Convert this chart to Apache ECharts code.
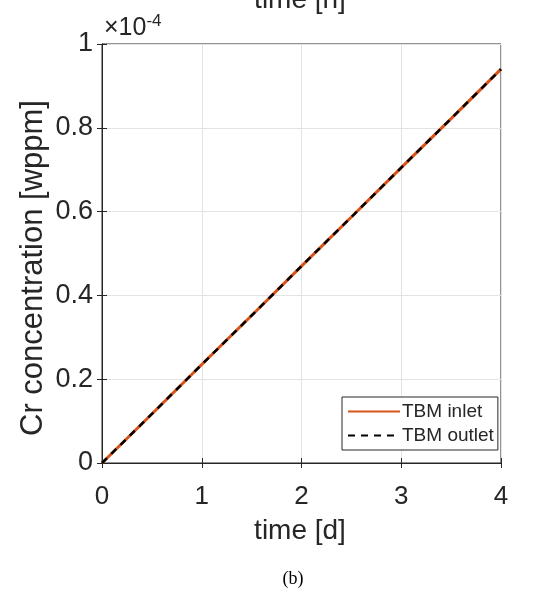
<!DOCTYPE html>
<html><head><meta charset="utf-8">
<script src="https://cdn.jsdelivr.net/npm/echarts@6/dist/echarts.min.js"></script>
<style>html,body{margin:0;padding:0;background:#fff}#c{width:545px;height:606px}</style>
</head><body><div id="c"></div>
<script>
// time in days
const timeDays = [0, 0.5, 1, 1.5, 2, 2.5, 3, 3.5, 4];
// Cr concentration in units of 1e-4 wppm
const inletValues  = [0, 0.117, 0.235, 0.352, 0.470, 0.587, 0.705, 0.822, 0.940];
const outletValues = [0, 0.117, 0.235, 0.352, 0.470, 0.587, 0.705, 0.822, 0.940];
const xTicks = [0, 1, 2, 3, 4];
const yTicks = [0, 0.2, 0.4, 0.6, 0.8, 1];
const seriesNames = ['TBM inlet', 'TBM outlet'];

const txt = '#262626';
const font = 'Liberation Sans, Arial, sans-serif';
const chart = echarts.init(document.getElementById('c'), null, {renderer: 'canvas'});
const pairs = (xs, ys) => xs.map((x, i) => [x, ys[i]]);
const fmtY = v => { const r = Math.round(v*10)/10; return yTicks.includes(r) ? String(r) : ''; };
const fmtX = v => (xTicks.includes(v) ? String(v) : '');

chart.setOption({
  animation: false,
  backgroundColor: '#fff',
  grid: {left: 102, right: 44, top: 44, bottom: 143, show: true, borderColor: txt, borderWidth: 1, backgroundColor: '#fff'},
  xAxis: [{
    type: 'value', min: 0, max: 4, interval: 1,
    axisLine: {show: true, lineStyle: {color: txt, width: 1}},
    axisTick: {show: true, inside: true, length: 5, lineStyle: {color: txt}},
    splitLine: {show: true, lineStyle: {color: '#e3e3e3', width: 1}},
    axisLabel: {color: txt, fontSize: 26, fontFamily: font, margin: 21, formatter: fmtX}
  }, {
    type: 'value', min: 0, max: 4, interval: 1, position: 'top',
    axisLine: {show: true, lineStyle: {color: txt}},
    axisTick: {show: true, inside: true, length: 5, lineStyle: {color: txt}},
    axisLabel: {show: false}, splitLine: {show: false}
  }],
  yAxis: [{
    type: 'value', min: 0, max: 1, interval: 0.2,
    axisLine: {show: true, lineStyle: {color: txt, width: 1}},
    axisTick: {show: true, inside: true, length: 5, lineStyle: {color: txt}},
    splitLine: {show: true, lineStyle: {color: '#e3e3e3', width: 1}},
    axisLabel: {color: txt, fontSize: 27, fontFamily: font, margin: 9, formatter: fmtY}
  }, {
    type: 'value', min: 0, max: 1, interval: 0.2, position: 'right',
    axisLine: {show: true, lineStyle: {color: txt}},
    axisTick: {show: true, inside: true, length: 5, lineStyle: {color: txt}},
    axisLabel: {show: false}, splitLine: {show: false}
  }],
  legend: {
    orient: 'vertical', left: 342, top: 397,
    padding: [5, 4, 5, 5], itemGap: 5, itemWidth: 52, itemHeight: 20,
    backgroundColor: '#fff', borderColor: txt, borderWidth: 1, borderRadius: 0,
    itemStyle: {opacity: 0},
    textStyle: {color: txt, fontSize: 19, fontFamily: font, padding: [0, 0, 0, -3]},
    data: seriesNames
  },
  series: [{
    name: seriesNames[0], type: 'line', showSymbol: false, symbol: 'none',
    data: pairs(timeDays, inletValues),
    lineStyle: {color: '#D95319', width: 3}, itemStyle: {color: '#D95319'}
  }, {
    name: seriesNames[1], type: 'line', showSymbol: false, symbol: 'none',
    data: pairs(timeDays, outletValues),
    lineStyle: {color: '#000', width: 2.5, type: [7, 6]}, itemStyle: {color: '#000'}
  }],
  graphic: [{
    type: 'text', left: 104, top: 13,
    style: {
      text: '{a|×10}{b|-4}', fill: txt,
      rich: {
        a: {fontSize: 25, fontFamily: font, fill: txt},
        b: {fontSize: 17, fontFamily: font, fill: txt, verticalAlign: 'top', padding: [0, 0, 14, 0]}
      }
    }
  }, {
    type: 'text', x: 300, y: -14,
    style: {text: 'time [h]', fontSize: 28, fontFamily: font, fill: txt, textAlign: 'center', textVerticalAlign: 'top'}
  }, {
    type: 'text', x: 300, y: 531,
    style: {text: 'time [d]', fontSize: 28, fontFamily: font, fill: txt, textAlign: 'center', textVerticalAlign: 'middle'}
  }, {
    type: 'text', x: 33, y: 268, rotation: Math.PI / 2,
    style: {text: 'Cr concentration [wppm]', fontSize: 31, fontFamily: font, fill: txt, textAlign: 'center', textVerticalAlign: 'middle'}
  }, {
    type: 'text', x: 293, y: 579,
    style: {text: '(b)', fontSize: 18, fontFamily: 'Liberation Serif, Times New Roman, serif', fill: '#000', textAlign: 'center', textVerticalAlign: 'middle'}
  }]
});
</script></body></html>
